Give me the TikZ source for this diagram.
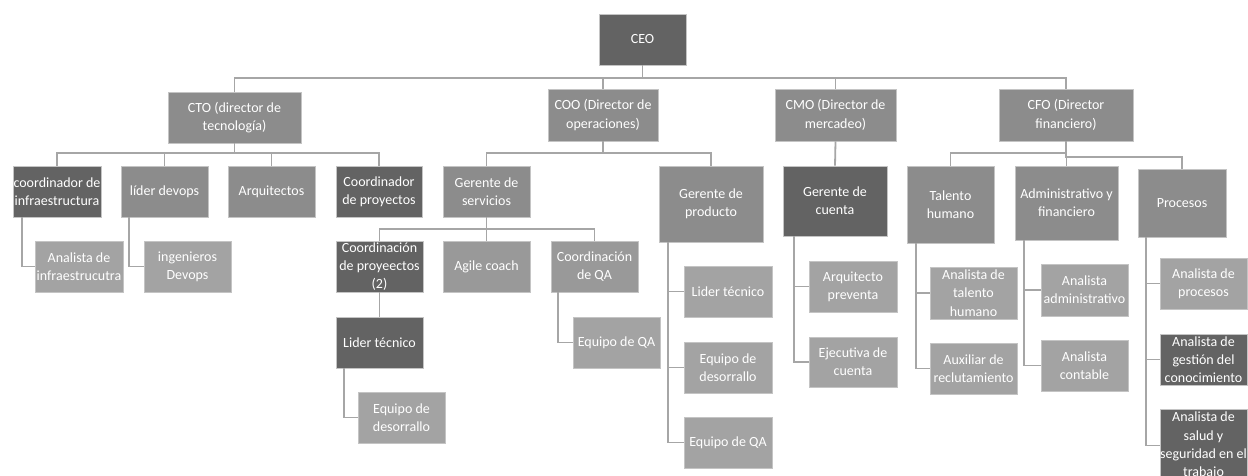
\documentclass[tikz,border=0pt]{standalone}
\usepackage{fontspec}
\setmainfont{Carlito}
\definecolor{dk}{HTML}{636363}
\definecolor{md}{HTML}{8C8C8C}
\definecolor{lt}{HTML}{A3A3A3}
\definecolor{ml}{HTML}{999999}
\definecolor{ln}{HTML}{A6A6A6}
\definecolor{edge}{HTML}{C4C4C4}
\begin{document}
\begin{tikzpicture}[x=1pt,y=-1pt,
  box/.style={rectangle, inner sep=0pt, align=center, text=white,
    font=\fontsize{14}{18.3}\selectfont, draw=edge, line width=0.6pt},
  dbox/.style={box, fill=dk},
  mbox/.style={box, fill=md},
  lbox/.style={box, fill=lt},
  mlbox/.style={box, fill=ml},
  conn/.style={draw=ln, line width=1.8pt},
]
\useasboundingbox (0,0) rectangle (1248,476);
\clip (0,0) rectangle (1248,476);
\fill[white] (0,0) rectangle (1248,476);
% helper: node at center with size
\newcommand{\bx}[8]{\node[#1, minimum width=#4-#3, minimum height=#6-#5] (#2) at ({(#3+#4)/2},{(#5+#6)/2}) {#7};}
% level 0/1
\bx{dbox}{ceo}{599}{686}{14}{65}{CEO}{}
\bx{mbox}{cto}{168}{301}{92}{143}{CTO (director de\\tecnología)}{}
\bx{mbox}{coo}{548}{658}{89}{141}{COO (Director de\\operaciones)}{}
\bx{mbox}{cmo}{775}{896}{89}{141}{CMO (Director de\\mercadeo)}{}
\bx{mbox}{cfo}{999}{1133}{89}{141}{CFO (Director\\financiero)}{}
% CTO children
\bx{dbox}{ci}{13}{101}{166}{217}{coordinador de\\infraestructura}{}
\bx{mbox}{ld}{121}{208}{166}{217}{líder devops}{}
\bx{mbox}{ar}{228}{315}{166}{217}{Arquitectos}{}
\bx{dbox}{cp}{336}{422}{166}{217}{Coordinador\\de proyectos}{}
\bx{lbox}{ai}{35}{123}{241}{292}{Analista de\\infraestrucutra}{}
\bx{lbox}{id}{144}{231}{241}{292}{ingenieros\\Devops}{}
% COO children
\bx{mbox}{gs}{443}{530}{166}{217}{Gerente de\\servicios}{}
\bx{mbox}{gp}{659}{763}{166}{242}{Gerente de\\producto}{}
\bx{dbox}{cpp}{336}{423}{241}{292}{Coordinación\\de proyeectos\\(2)}{}
\bx{mlbox}{ag}{443}{530}{241}{292}{Agile coach}{}
\bx{mlbox}{cq}{551}{638}{241}{292}{Coordinación\\de QA}{}
\bx{dbox}{lta}{336}{423}{317}{368}{Lider técnico}{}
\bx{lbox}{eda}{358}{445}{392}{443}{Equipo de\\desorrallo}{}
\bx{lbox}{eqa}{573}{660}{317}{368}{Equipo de QA}{}
\bx{lbox}{ltb}{684}{772}{266}{317}{Lider técnico}{}
\bx{lbox}{edb}{684}{772}{342}{393}{Equipo de\\desorrallo}{}
\bx{lbox}{eqb}{684}{772}{417}{468}{Equipo de QA}{}
% CMO children
\bx{dbox}{gc}{783}{887}{166}{236}{Gerente de\\cuenta}{}
\bx{lbox}{ap}{809}{897}{261}{312}{Arquitecto\\preventa}{}
\bx{lbox}{ec}{809}{897}{337}{387}{Ejecutiva de\\cuenta}{}
% CFO children
\bx{mbox}{th}{907}{994}{166}{243}{Talento\\humano}{}
\bx{mbox}{af}{1015}{1118}{166}{240}{Administrativo y\\financiero}{}
\bx{mbox}{pr}{1138}{1226}{169}{237}{Procesos}{}
\bx{lbox}{ath}{930}{1017}{267}{319}{Analista de\\talento\\humano}{}
\bx{lbox}{arc}{930}{1017}{343}{394}{Auxiliar de\\reclutamiento}{}
\bx{lbox}{aad}{1041}{1128}{264}{316}{Analista\\administrativo}{}
\bx{lbox}{aco}{1041}{1128}{340}{391}{Analista\\contable}{}
\bx{lbox}{apr}{1160}{1247}{258}{309}{Analista de\\procesos}{}
\bx{dbox}{agc}{1160}{1247}{334}{385}{Analista de\\gestión del\\conocimiento}{}
\bx{dbox}{ass}{1160}{1247}{409}{482}{Analista de\\salud y\\seguridad en el\\trabajo}{}
% connectors
\draw[conn] (ceo.south) -- ++(0,13) -| (cto.north);
\draw[conn] (ceo.south) -- ++(0,13) -| (coo.north);
\draw[conn] (ceo.south) -- ++(0,13) -| (cmo.north);
\draw[conn] (ceo.south) -- ++(0,13) -| (cfo.north);
\foreach \c in {ci,ld,ar,cp} \draw[conn] (cto.south) -- ++(0,10) -| (\c.north);
\foreach \c in {gs,gp} \draw[conn] (coo.south) -- ++(0,12) -| (\c.north);
\draw[conn] (cmo.south) -- (gc.north);
\foreach \c in {th,af} \draw[conn] (cfo.south) -- ++(0,12) -| (\c.north);
\draw[conn] (cfo.south) -- ++(0,16) -| (pr.north);
\foreach \c in {cpp,ag,cq} \draw[conn] (gs.south) -- ++(0,12) -| (\c.north);
\draw[conn] (cpp.south) -- (lta.north);
\draw[conn] ([xshift=9pt]ci.south west) |- (ai.west);
\draw[conn] ([xshift=8pt]ld.south west) |- (id.west);
\draw[conn] ([xshift=8pt]lta.south west) |- (eda.west);
\draw[conn] ([xshift=7pt]cq.south west) |- (eqa.west);
\foreach \c in {ltb,edb,eqb} \draw[conn] ([xshift=9pt]gp.south west) |- (\c.west);
\foreach \c in {ap,ec} \draw[conn] ([xshift=11pt]gc.south west) |- (\c.west);
\foreach \c in {ath,arc} \draw[conn] ([xshift=9pt]th.south west) |- (\c.west);
\foreach \c in {aad,aco} \draw[conn] ([xshift=9pt]af.south west) |- (\c.west);
\foreach \c in {apr,agc,ass} \draw[conn] ([xshift=8pt]pr.south west) |- (\c.west);
\end{tikzpicture}
\end{document}
